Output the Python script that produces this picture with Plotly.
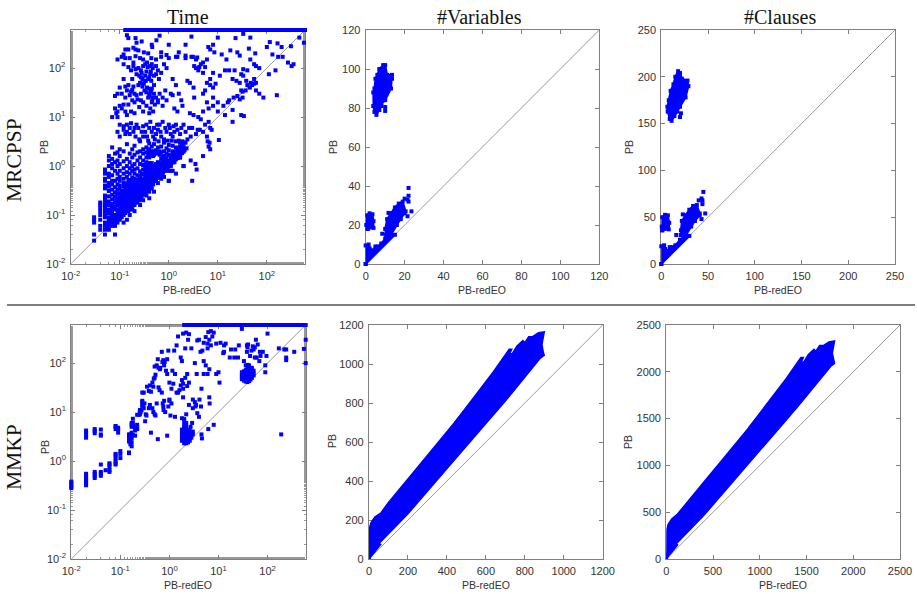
import math
import plotly.graph_objects as go

BLUE = "#0000ff"
TIMEOUT = 600

# ---------- MRCPSP / Time ----------
mrcpsp_timeout_x = [.13,.15,.17,.19,.21,.23,.25,.28,.31,.34,.38,.42,.47,.52,.58,.64,.71,.79,.88,.98,1.1,1.2,1.35,1.5,1.7,1.9,2.1,2.3,2.6,2.9,3.2,3.6,4,4.5,5,5.6,6.2,7,7.8,8.7,9.7,11,12,13.5,15,17,19,21,24,27,30,33,37,42,47,52,58,65,73,82,92,103,115,128,143,160,180,200,225,250,280,310,350,390,440,490,550,600]
mrcpsp_time_upper = [(.14,470),(.15,410),(.21,410),(.28,350),(.22,330),(.56,370),(.45,300),(.65,460),(1.0,300),(2.2,300),(2.9,440),(8,300),(10,420),(23,410),(33,500),(46,420),(115,340),(100,270),(165,320),(200,270),(310,280),(460,420),(570,330),
(.13,240),(.15,240),(.19,260),(.21,240),(.24,230),(.31,210),(.46,270),(.38,200),(.7,210),(.9,185),(1.4,170),(1.6,210),(2.2,180),(3.1,170),(3.8,165),(6.4,270),(7.0,240),(8.5,210),(12,190),(18,230),(15,150),(28,180),(25,210),(43,250),(58,200),(46,150),(130,190),(170,170),(210,170),
(.09,150),(.11,170),(.12,190),(.13,160),(.16,160),(.19,130),(.21,175),(.26,160),(.3,150),(.36,130),(.44,160),(.55,150),(.7,170),(1.0,160),(1.5,170),(2.2,160),(2.9,170),(3.6,150),(4.5,120),(5.5,105),(8,80),
(.12,120),(.15,105),(.17,90),(.19,110),(.21,95),(.24,100),(.28,80),(.33,120),(.37,105),(.41,110),(.47,100),(.55,110),(.6,90),(.8,120),(.9,100),(3.3,110),(3.6,100),(4.2,105),(5,130),(6,150),(14,90),(17,90),(22,90),(30,75),(33,95),(40,90),(55,120),(60,110),(70,100),(110,75),(150,90),(270,130),(320,110),(350,120)]
mrcpsp_time_mid = [(.12,60),(.18,60),(.22,75),(.27,65),(.29,60),(.33,70),(.38,60),(.42,75),(.44,55),(.5,45),(.63,60),(.7,80),(2.7,50),(3.2,40),(6,50),(7,45),(8,40),(9,48),(20,60),(24,55),(28,50),(33,70),(38,55),(40,45),(47,50),(55,60),(60,50),(50,45),(55,48),(37,35),(30,35),(32,33),(45,40),(60,35),(70,30),(85,25),(160,28),
(.08,27),(.09,30),(.1,40),(.13,42),(.15,45),(.17,33),(.2,30),(.22,28),(.27,30),(.32,35),(.35,32),(.38,25),(.4,27),(.45,38),(.47,25),(.5,30),(.6,22),(.75,25),(.9,22),(1.2,28),(1.6,30),(1.8,22),(3.3,25),(5,30),(5.5,35),(8,25),
(.07,10),(.08,15),(.085,12),(.09,10),(.1,17),(.11,15),(.12,18),(.14,11),(.15,18),(.18,22),(.2,20),(.23,23),(.27,22),(.3,20),(.35,17),(.42,15),(.45,20),(.48,13),(.6,20),(.75,17),(1.3,15),(1.5,13),(1.9,17),(2.7,12),(3.2,11),(4,10),(4.5,9),(5,13),(6,20),(6.5,15),(8,17),(10,20),(10,13),(13,17),(14,11),(16,20),(17,22),(20,14),(20,8),(21,25),(25,27),(28,23),(30,11),(34,10.5),(32,25),
(.1,7),(.12,6.5),(.14,7),(.1,4),(.09,5),(.12,5.5),(.13,4.5),(.16,4.5),(.17,7.5),(.19,5),(.21,4),(.22,7),(.24,6),(.28,5),(.3,4),(.33,5),(.36,4),(.38,3.3),(.42,8),(.45,5),(.5,6),(.55,4.5),(.6,5.5),(.65,7),(.7,4),(.75,8),(.85,6),(.9,5),(1,7),(1.1,4.5),(1.2,4),(1.3,5),(1.4,7),(1.5,5.5),(1.7,4.5),(1.9,3.2),(2,7),(2.4,3.5),(2.8,4),(3,6),(3.6,4.5),(3.9,5.5),(4.3,5.5),(5,5),(5.5,7),(6,4),(6.5,8),(7,6),(7.5,5.5),(2.2,3),
(3,.5),(3.7,.85),(3.5,1.1),(2.8,1.3),(2,1),(5,1.6),(6.5,2.5),(6.8,3),(10.5,3.4),(7,2.2),(6.2,3.2),(1.1,.8),(1.7,1.5),(1,.5)]
mrcpsp_time_extra = [(.11,30),(.13,25),(.14,35),(.16,28),(.18,36),(.19,42),(.24,45),(.26,50),(.29,42),(.31,48),(.34,55),(.36,40),(.39,38),(.41,30),(.43,33),(.46,22),(.52,18),(.55,25),(.4,12),(.3,13),(.25,16),(.2,12),(.17,13),(.13,13),(.09,13),(.14,5),(.16,6),(.2,6),(.25,3.5),(.3,6.5),(.35,7),(.4,6),(.48,4),(.52,3.5),(.58,7),(.62,3.2),(.68,5),(.8,3.5),(.95,3.3),(1.05,6),(1.15,3.3),(1.25,6.5),(1.6,3.3),(1.8,6),(2.2,5),(2.6,6),
(.25,70),(.27,90),(.3,110),(.32,55),(.35,85),(.4,65),(.43,85),(.45,120),(.5,70),(.55,75),(.65,30),(.85,35),(1.1,30),(1.2,60),(1.4,45),(2.4,55),(4,90),(5,80),(7,60),(11,70)]
mrcpsp_time_columns = {
 .03:[.03,.04,.07,.08,.09],
 .04:[.05,.06,.08,.1,.12,.14,.16,.18],
 .05:[.04,.05,.06,.07,.09,.1,.12,.14,.16,.18,.2,.23,.25,.35,.4,.5,.55,.7,.75,.85],
 .06:[.05,.06,.07,.08,.09,.11,.13,.16,.19,.24,.31,.38,.45,.6,.7,1.0,1.3,1.6],
 .07:[.06,.07,.08,.09,.1,.12,.14,.15,.17,.21,.26,.33,.42,.5,.65,.9,1.1,1.4,2.4],
 .08:[.04,.06,.07,.08,.09,.1,.13,.15,.18,.2,.24,.29,.37,.5,.8,1.2,1.8],
 .09:[.07,.08,.09,.1,.11,.13,.16,.19,.22,.27,.33,.42,.55,.7,1.0,1.3,1.9],
 .1:[.08,.09,.1,.11,.12,.14,.17,.2,.23,.28,.35,.4,.5,.6,.8,1.1,1.6,2.2],
 .11:[.09,.11,.13,.15,.18,.21,.25,.31],
 .12:[.07,.1,.12,.14,.16,.19,.22,.26,.31,.38,.45,.55,.7,.9,1.25,2.0],
 .13:[.11,.13,.15,.17,.2,.24,.28,.36,.42],
 .14:[.08,.12,.14,.16,.18,.21,.25,.3,.37,.44,.6,.75,1.0,1.4,2.8],
 .15:[.12,.15,.17,.19,.23,.27,.33,.4,.5],
 .16:[.1,.13,.16,.18,.21,.24,.28,.34,.42,.52,.7,.9,1.2,1.8],
 .17:[.14,.17,.19,.22,.26,.31,.37,.46],
 .18:[.13,.15,.18,.2,.23,.27,.32,.38,.47,.58,.8,1.0,1.5,2.2],
 .19:[.16,.19,.22,.25,.29,.35,.42,.55],
 .2:[.12,.16,.2,.22,.26,.3,.36,.43,.55,.7,.85,1.1,1.7,2.6],
 .21:[.18,.21,.24,.28,.33,.4,.48],
 .23:[.18,.21,.23,.26,.31,.37,.44,.52,.65,.9,1.3,1.9],
 .25:[.2,.25,.28,.33,.39,.47,.58],
 .26:[.16,.22,.26,.3,.35,.42,.5,.62,.78,1.1,1.5,2.0,3.2],
 .28:[.23,.28,.31,.36,.43,.53,.68],
 .3:[.2,.26,.3,.34,.39,.46,.55,.68,.85,1.05,1.3,1.8,2.2],
 .33:[.27,.33,.37,.42,.5,.6,.75,.95],
 .35:[.25,.3,.35,.4,.46,.54,.65,.82,1.0,1.2,1.5,1.9,2.4],
 .38:[.32,.38,.42,.49,.58,.7,.88,1.1,1.7,2.0],
 .4:[.22,.3,.4,.45,.52,.62,.76,.95,1.15,1.5,1.9,2.2,2.9],
 .43:[.37,.43,.48,.56,.68,.85,1.05,1.8],
 .45:[.35,.45,.5,.58,.7,.9,1.15,1.7,2.0,2.5],
 .48:[.42,.48,.53,.62,.75,.95,1.6,1.9],
 .5:[.3,.5,.55,.64,.78,1.0,1.7,2.0,2.8],
 .55:[.5,.55,.6,.7,.85,1.1,1.8,2.1],
 .6:[.45,.6,.66,.78,.95,1.2,1.9,2.4],
 .65:[.58,.65,.72,.85,1.05,1.7,2.0],
 .7:[.55,.7,.78,.92,1.15,1.4,1.9,2.5],
 .75:[.68,.75,.83,1.0,1.25,1.55],
 .8:[.6,.8,.88,1.05,1.3,1.6,2.0,3.0],
 .85:[.8,.85,.95,1.12,1.4],
 .9:[.9,1.0,1.2,1.5,1.8,2.3],
 1:[.5,.8,1.0,1.1,1.28,1.7,2.1,2.7],
 1.1:[1.0,1.1,1.2,1.4,1.6],
 1.2:[.8,1.2,1.3,1.5,1.75,2.0,2.6],
 1.3:[1.2,1.3,1.4,1.6,1.85],
 1.4:[.7,1.4,1.5,1.7,2.0,2.4,3.2],
 1.55:[1.45,1.55,1.7,1.9,2.2],
 1.7:[1.5,1.7,1.85,2.1,2.5,3.0],
 1.85:[1.85,2.0,2.3,2.7],
 2:[1.0,2.0,2.2,2.5,3.0],
}
mrcpsp_time_equal = [.055,.065,.075,.085,.095,.105,.115,.125,.135,.15,.165,.18,.195,.21,.225,.24,.26,.28,.3,.32,.35,.38,.41,.44,.47,.5,.54,.58,.62,.67,.72,.77,.83,.89,.95,1.02,1.1,1.18,1.27,1.36,1.46,1.57,1.7,1.83,1.97,2.1,2.3]

# ---------- MMKP / Time ----------
mmkp_timeout_x = [2,2.3,2.6,2.8,3,3.3,3.6,4,4.5,5,5.6,6.2,7,7.8,8.7,9.7,11,12,13.5,15,17,19,21,24,27,30,33,37,42,47,52,58,65,73,82,92,103,115,128,143,160,180,200,225,250,280,310,350,390,440,490,550,600]
mmkp_time_columns = {
 .01:[.28,.3,.33,.36,.38],
 .02:[.32,.35,.38,.42,.45,.5,.55,3,3.3,3.7,4.2],
 .03:[.45,.5,.55,.6,3.7,4.1,4.5],
 .04:[.5,.55,.6,.85,3.3,3.5,4.4],
 .05:[.65],
 .06:[.6,.65,.75,.85,.9],
 .08:[.85,.9,1,1.15,1.3,1.4,4.5,5,5.2],
 .09:[3.8,4.5,4.8],
 .1:[1.15,1.4,1.6],
 .15:[1.45,1.5,2.5,2.8,3,3.5],
 .16:[2.2,2.6,3.0,3.5],
 .17:[2,2.4,2.9,3.3,3.8,5,5.5,6],
 .18:[3.4,5.2,6,7.3],
 .2:[3.3,4.2,4.7,5],
 .22:[4.5,4.7,5.5,8.8],
 .25:[9,10,11],
 .28:[13,14,16,17,25],
}
mmkp_time_scatter = [(.24,8.8),(.26,10),(.29,13),(.31,15),(.27,11),(.3,25),(.3,12),(.32,6.5),(.33,9),(.34,8.5),(.38,12),(.4,14),(.35,33),(.38,27),(.4,35),(.42,26),(.45,40),(.47,33),(.48,48),(.5,50),(.52,58),(.5,85),(.55,90),(.58,120),(.64,75),(.7,170),(.75,115),(.8,105),(.85,70),(.9,120),(.95,180),(.6,80),(.65,80),(.72,105),(.78,90),
(.47,10),(.5,9),(.52,8.5),(.45,12),(.55,15),(.42,3.8),(.58,2.8),(.6,32),(.63,28),(.7,25),(.73,15),(.75,13),(.76,11),(.78,17),(.82,10),(.9,3.3),(1,17),(1,40),(1,18),(1.05,8.5),(1.1,15),(.95,13),(1.15,70),(1.2,38),(1.3,8),(1.25,180),(1.4,230),(1.5,25),(1.6,28),(1.7,35),(1.7,130),(1.8,45),(1.8,110),(1.9,30),(1.9,38),(1.9,400),(1.5,350),(2.2,420),(2.4,300),(2.5,390),(2.8,200),(3,12),(3.3,100),(3.4,13),(3.6,60),(3.7,290),(2.1,200),(2.1,50),(2.3,34),(2.3,60),(2.5,40),(2.2,9),(1.9,20),(1.8,7.5),(2,7.2),(2.2,6),(2.5,14),(2.7,5),(2.9,6),(3,18),(3.3,16),(3.5,14),(3.7,9.5),(4,8),(4.1,18),(4.4,13),(4.5,3.5),(4.6,2.9),(4.5,30),(5,60),(5.5,90),(5,110),(4.7,180),(4.3,170),(4,300),(5,260),(5.5,340),(6,200),(6.5,20),(6.6,15),(6.2,4.5),(8,5.5),(6.5,300),(6.2,430),(7,450),(7.5,350),(8,420),(7,230),(6,250),(6,60),(6.5,75),(9,60),(10.5,40),(10,65),(9,250),(11,260),(12.5,160),(13,170),(13,230),(14,250),(17,130),(18,190),(22,190),(25,130),(26,230),(21,130),(33,110),(30,500),(38,230),(38,170),(39,210),(44,140),(47,180),(52,190),(40,240),(50,220),(55,210),(58,300),(63,240),(60,130),(70,170),(72,140),(68,110),(55,130),(80,170),(90,90),(95,140),(100,400),(90,65),(170,200),(220,190),(240,190),(240,130),(240,115),(350,170),(550,195),(600,300),(600,100),(190,3.5),(.9,60),(1.1,30),(1.3,60),(1.4,25)]
mmkp_time_cluster_small = {1.8:[2.6,3,3.4,3.9,4.4],2:[2.3,2.5,2.8,3.2,3.6,4,4.5,5,5.5,6.5],2.2:[2.3,2.5,2.8,3.2,3.6,4,4.5,5],2.4:[2.4,2.6,2.9,3.3,3.8,4.3],2.6:[2.6,2.9,3.3,3.7,4.2],2.8:[3,3.4,3.8],3:[3.5,4]}
mmkp_time_cluster_large = {30:[47,52,58,65],33:[44,48,53,60,68],36:[42,45,50,56,63,72,90],39:[41,45,50,56,63,72,80,92],42:[43,47,53,60,68,76,90],45:[46,52,58,65,75],48:[50,56,63,70,80],52:[56,62,70]}

# ---------- outlines of the solid regions, #Variables and #Clauses ----------
var_mrcpsp_upper = [(4.0,81),(4.5,78),(5.5,76.5),(7,79),(8,82),(10,84),(13,90),(13.5,95),(13.5,97),(11,97),(10,102),(9,102),(7,100),(6,97),(5,95),(4.5,90),(3.9,88)]
var_mrcpsp_left = [(1,18),(4,18.5),(4,22),(3.5,25.5),(2,26),(.8,25),(.3,20)]
var_mrcpsp_right = [(10.5,15),(13,15),(16,20),(18,23),(20,26),(20.5,27),(19,32),(17,31),(15,29),(13,26),(11,23),(10,18)]
var_mrcpsp_diag = [(0,0),(15,15),(13,15.5),(10,13),(8,10.5),(6.5,9),(5,9),(3.5,7),(2,8),(1.5,10),(0,9.5)]
var_mrcpsp_points = [(10,80.5),(10,78.5),(8,81),(8.5,15.5),(11.7,26.2),(22,39),(21.5,33),(20,33.5),(22,35),(22,32),(23.5,27),(21.5,24.5)]

cla_mrcpsp_upper = [(7,163),(9,155),(11,153),(14,158),(17,163),(20,168),(26,178),(29,190),(28,196),(22,198),(20,204),(18,206),(15,200),(13,192),(10,185),(8,175),(6.5,168)]
cla_mrcpsp_left = [(1,36),(8,37),(8.5,44),(7,52),(4,52.5),(1,50),(.5,40)]
cla_mrcpsp_right = [(21,31),(26,30),(32,40),(36,46),(41,52),(41,54),(38,63),(34,62),(30,58),(26,52),(22,46),(21,36)]
cla_mrcpsp_diag = [(0,0),(30,30),(26,31),(20,26),(15,20),(12,18),(9,18),(7,14),(4,16),(3,20),(0,19)]
cla_mrcpsp_points = [(21,161),(20,157),(16,163),(16,31),(23,53),(45,77),(43,70),(40,68),(44,68),(44,64),(47,54),(43,48)]

var_mmkp_band = [(0,0),(0,130),(3,160),(10,185),(30,215),(60,235),(100,290),(200,410),(300,530),(400,655),(450,712),(540,822),(725,1052),(735,1052),(760,1092),(790,1120),(800,1110),(820,1140),(840,1140),(870,1160),(900,1165),(888,1100),(895,1060),(900,1045),(880,1030),(800,930),(700,810),(600,695),(500,580),(400,465),(300,350),(200,232),(100,130),(40,70),(15,42),(6,30),(6,0)]
var_mmkp_strip = [(440,700),(560,860),(640,962),(720,1076),(733,1076),(727,1062),(640,953),(560,850)]
var_mmkp_blob = [(0,0),(55,65),(60,75),(45,85),(35,75),(0,25)]
cla_mmkp_band = [(0,0),(0,270),(6,320),(20,370),(60,430),(120,480),(200,580),(400,820),(600,1060),(800,1310),(900,1424),(1080,1644),(1450,2104),(1470,2104),(1520,2184),(1580,2240),(1600,2220),(1640,2280),(1680,2280),(1740,2320),(1800,2330),(1776,2200),(1790,2120),(1800,2090),(1760,2060),(1600,1860),(1400,1620),(1200,1390),(1000,1160),(800,930),(600,700),(400,464),(200,260),(80,140),(30,84),(12,60),(12,0)]
cla_mmkp_strip = [(880,1400),(1120,1720),(1280,1924),(1440,2152),(1466,2152),(1454,2124),(1280,1906),(1120,1700)]
cla_mmkp_blob = [(0,0),(110,130),(120,150),(90,170),(70,150),(0,50)]

# ---------- ticks and texts ----------
log_ticks = [0.01, 0.1, 1, 10, 100]
log_tick_labels = ["10<sup>-2</sup>", "10<sup>-1</sup>", "10<sup>0</sup>", "10<sup>1</sup>", "10<sup>2</sup>"]
var_mrcpsp_ticks = [0, 20, 40, 60, 80, 100, 120]
cla_mrcpsp_ticks = [0, 50, 100, 150, 200, 250]
var_mmkp_ticks = [0, 200, 400, 600, 800, 1000, 1200]
cla_mmkp_ticks = [0, 500, 1000, 1500, 2000, 2500]
column_titles = ["Time", "#Variables", "#Clauses"]
row_titles = ["MRCPSP", "MMKP"]

W, H = 917, 594
frames = [(70.7, 305, 30, 264), (365.7, 599.3, 30, 264), (661.3, 895, 30, 264),
          (71.3, 305.7, 325, 559), (369, 602.7, 325, 559), (666.3, 900, 325, 559)]
limits = [None, 120, 250, None, 1200, 2500]
ticks = [log_ticks, var_mrcpsp_ticks, cla_mrcpsp_ticks, log_ticks, var_mmkp_ticks, cla_mmkp_ticks]

fig = go.Figure()


def expand(columns):
    return [(x, y) for x, ys in columns.items() for y in ys]


def pts(i, pairs, size=4):
    fig.add_trace(go.Scatter(x=[p[0] for p in pairs], y=[p[1] for p in pairs], mode="markers",
                             xaxis=f"x{i+1}", yaxis=f"y{i+1}", cliponaxis=False, showlegend=False,
                             marker=dict(symbol="square", size=size, color=BLUE, line=dict(width=0))))


def region(i, pairs, markers=True):
    closed = pairs + pairs[:1]
    fig.add_trace(go.Scatter(x=[p[0] for p in closed], y=[p[1] for p in closed],
                             mode="lines+markers" if markers else "lines", fill="toself", fillcolor=BLUE,
                             xaxis=f"x{i+1}", yaxis=f"y{i+1}", cliponaxis=False, showlegend=False,
                             line=dict(color=BLUE, width=2 if markers else 1.5),
                             marker=dict(symbol="square", size=4, color=BLUE)))


def diagonal(i, lo, hi):
    fig.add_trace(go.Scatter(x=[lo, hi], y=[lo, hi], mode="lines", xaxis=f"x{i+1}", yaxis=f"y{i+1}",
                             showlegend=False, line=dict(color="#9a9a9a", width=1)))


for i, lim in enumerate(limits):
    if lim is None:
        diagonal(i, 0.01, TIMEOUT)
    else:
        diagonal(i, 0, lim)

pts(0, [(x, TIMEOUT) for x in mrcpsp_timeout_x])
pts(0, mrcpsp_time_upper + mrcpsp_time_mid + mrcpsp_time_extra + expand(mrcpsp_time_columns))
pts(0, [(v, v) for v in mrcpsp_time_equal])

for r in (var_mrcpsp_upper, var_mrcpsp_left, var_mrcpsp_right, var_mrcpsp_diag):
    region(1, r)
pts(1, var_mrcpsp_points)
for r in (cla_mrcpsp_upper, cla_mrcpsp_left, cla_mrcpsp_right, cla_mrcpsp_diag):
    region(2, r)
pts(2, cla_mrcpsp_points)

pts(3, [(x, TIMEOUT) for x in mmkp_timeout_x])
pts(3, expand(mmkp_time_columns) + mmkp_time_scatter + expand(mmkp_time_cluster_small) + expand(mmkp_time_cluster_large))

region(4, var_mmkp_band, markers=False)
region(4, var_mmkp_strip, markers=False)
region(4, var_mmkp_blob, markers=False)
region(5, cla_mmkp_band, markers=False)
region(5, cla_mmkp_strip, markers=False)
region(5, cla_mmkp_blob, markers=False)

layout = {}
tick_font = dict(family="Liberation Sans", size=11, color="#333333")
for i, (x0, x1, y0, y1) in enumerate(frames):
    is_log = limits[i] is None
    base = dict(showgrid=False, zeroline=False, showline=True, linecolor="#808080", linewidth=1.2,
                mirror="ticks", ticks="inside", ticklen=4, tickcolor="#808080", tickwidth=1,
                tickmode="array", tickvals=ticks[i], tickfont=tick_font, fixedrange=True,
                automargin=False, layer="below traces", ticklabelstandoff=2)
    if is_log:
        base["ticktext"] = log_tick_labels
        base["type"] = "log"
        base["range"] = [math.log10(0.01), math.log10(TIMEOUT)]
        base["minor"] = dict(ticks="inside", ticklen=2, tickcolor="#999999", tickwidth=0.6, showgrid=False)
    else:
        base["ticktext"] = [str(t) for t in ticks[i]]
        base["range"] = [0, limits[i]]
    layout[f"xaxis{i+1}"] = dict(base, domain=[x0 / W, x1 / W], anchor=f"y{i+1}")
    layout[f"yaxis{i+1}"] = dict(base, domain=[1 - y1 / H, 1 - y0 / H], anchor=f"x{i+1}")

annotations = []


def text(s, px, py, size, family, color, angle=0):
    annotations.append(dict(text=s, x=px / W, y=1 - py / H, xref="paper", yref="paper", showarrow=False,
                            xanchor="center", yanchor="middle", textangle=angle,
                            font=dict(family=family, size=size, color=color)))


for s, px in zip(column_titles, [188, 479, 780]):
    text(s, px, 17, 20, "Liberation Serif", "#111111")
for s, py in zip(row_titles, [160, 457]):
    text(s, 14, py, 21.5, "Liberation Serif", "#111111", -90)
for px, py in [(187, 290), (482, 290), (778, 290), (188, 585), (486, 585), (783, 585)]:
    text("PB-redEO", px, py, 10.5, "Liberation Sans", "#333333")
for px, py in [(44, 147), (333, 147), (629, 147), (45, 447), (332, 441), (628, 442)]:
    text("PB", px, py, 10.5, "Liberation Sans", "#333333", -90)

fig.update_layout(width=W, height=H, margin=dict(l=0, r=0, t=0, b=0), autosize=False,
                  template="none",
                  paper_bgcolor="white", plot_bgcolor="white", showlegend=False,
                  annotations=annotations,
                  shapes=[dict(type="line", xref="paper", yref="paper", x0=7 / W, x1=915 / W,
                               y0=1 - 305 / H, y1=1 - 305 / H, line=dict(color="#555555", width=1.5))],
                  **layout)
fig.write_html("out.html", config=dict(displayModeBar=False),
               post_script="document.body.style.margin='0';")
